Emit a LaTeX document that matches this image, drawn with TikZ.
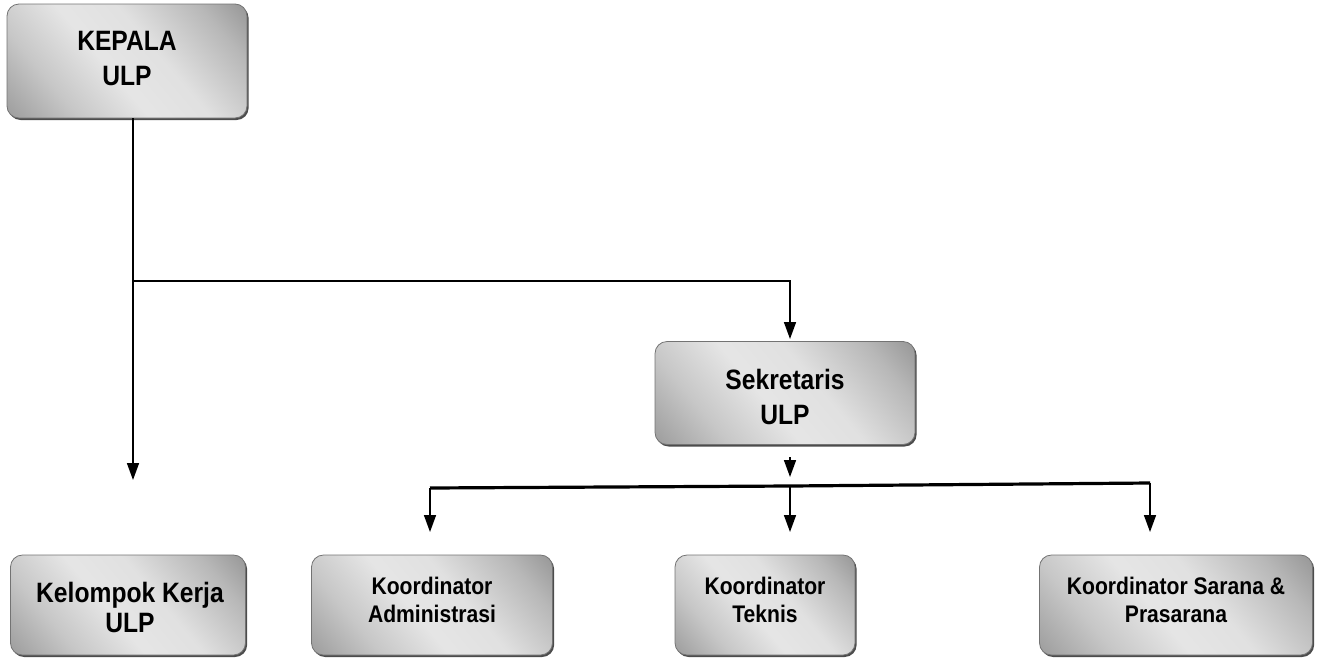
\documentclass[tikz,border=0pt]{standalone}
\usepackage{fontspec}
\setmainfont{Liberation Sans}
\newfontfamily\cond{Liberation Sans}[FakeStretch=0.88]
\usetikzlibrary{arrows.meta,shadows}
\pgfdeclareverticalshading{boxshade}{100bp}{color(0bp)=(black!55); color(30bp)=(black!22); color(45bp)=(black!10); color(58bp)=(black!12); color(75bp)=(black!28); color(100bp)=(black!60)}
\tikzset{
  orgbox/.style={rounded corners=12pt, draw=black!55, line width=0.8pt,
    shading=boxshade, shading angle=-50,
    drop shadow={shadow xshift=1.6pt, shadow yshift=-2pt, fill=black!70, opacity=1},
    inner sep=0pt},
  boxtext/.style={align=center, inner sep=0pt},
  bigtext/.style={font=\cond\bfseries\fontsize{28}{35}\selectfont},
  smalltext/.style={font=\cond\bfseries\fontsize{24}{28}\selectfont},
  conn/.style={line width=1.6pt, draw=black},
  tip/.style={-{Triangle[width=12pt,length=17pt]}},
}
\begin{document}
\begin{tikzpicture}[x=1pt,y=-1pt]
\useasboundingbox (0,0) rectangle (1319,659);
% boxes
\node[orgbox, minimum width=240pt, minimum height=114pt,
  label={[boxtext, bigtext, yshift=2pt]center:{KEPALA\\ULP}}] (kepala) at (127,61) {};
\node[orgbox, minimum width=260pt, minimum height=103pt,
  label={[boxtext, bigtext, yshift=-4pt]center:{Sekretaris\\ULP}}] (sek) at (785,393) {};
\node[orgbox, minimum width=235pt, minimum height=100pt,
  label={[boxtext, bigtext, font=\cond\bfseries\fontsize{28}{30}\selectfont, xshift=2pt, yshift=-2pt]center:{Kelompok Kerja\\ULP}}] (kel) at (128,605) {};
\node[orgbox, minimum width=241pt, minimum height=100pt,
  label={[boxtext, smalltext, yshift=5pt]center:{Koordinator\\Administrasi}}] (adm) at (432,605) {};
\node[orgbox, minimum width=180pt, minimum height=100pt,
  label={[boxtext, smalltext, yshift=5pt]center:{Koordinator\\Teknis}}] (tek) at (765,605) {};
\node[orgbox, minimum width=273pt, minimum height=100pt,
  label={[boxtext, smalltext, yshift=5pt]center:{Koordinator Sarana \&\\Prasarana}}] (sar) at (1176,605) {};
% junction coordinates
\coordinate (j1) at (133,281);
\coordinate (kelin) at (133,480);
\coordinate (j2) at (790,281);
\coordinate (sekin) at (790,339);
\coordinate (s1) at (790,457);
\coordinate (s2) at (790,477);
\coordinate (bl) at (430,488);
\coordinate (bm) at (790,486);
\coordinate (br) at (1150,483);
\coordinate (al) at (430,532);
\coordinate (am) at (790,532);
\coordinate (ar) at (1150,532);
% connectors
\draw[conn, tip] (kepala.south -| j1) -- (kelin);
\draw[conn, tip] (j1) -- (j2) -- (sekin);
\draw[conn, tip] (s1) -- (s2);
\draw[line width=3.2pt] (bl) -- (bm) -- (br);
\draw[conn, tip] (bl) -- (al);
\draw[conn, tip] (bm) -- (am);
\draw[conn, tip] (br) -- (ar);
\end{tikzpicture}
\end{document}
